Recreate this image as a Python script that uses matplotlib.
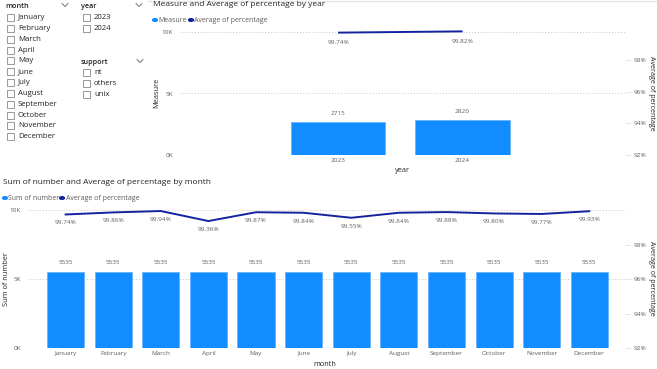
import numpy as np
import matplotlib.pyplot as plt
from matplotlib.lines import Line2D
from matplotlib.patches import Rectangle, Circle

# Data
months = ['January', 'February', 'March', 'April', 'May', 'June',
          'July', 'August', 'September', 'October', 'November', 'December']
years = ['2023', '2024']
supports = ['nt', 'others', 'unix']

year_measure = [2715, 2820]
year_pct = [99.74, 99.82]

month_number = [5535, 5535, 5535, 5535, 5535, 5535,
                5535, 5535, 5535, 5535, 5535, 5535]
month_pct = [99.74, 99.86, 99.94, 99.36, 99.87, 99.84,
             99.55, 99.84, 99.88, 99.80, 99.77, 99.93]

# Style
W, H = 657, 369
BAR = '#118DFF'
LINE = '#12239E'
GREY = '#605E5C'
DARK = '#252423'
GRID = '#C8C6C4'
plt.rcParams['font.family'] = ['Open Sans', 'DejaVu Sans']

fig = plt.figure(figsize=(W / 100, H / 100), dpi=100)


def fx(x):
    return x / W


def fy(y):
    return 1 - y / H


def pbox(x0, y0, x1, y1):
    return [x0 / W, 1 - y1 / H, (x1 - x0) / W, (y1 - y0) / H]


def chevron(x, y):
    fig.add_artist(Line2D([fx(x - 3), fx(x), fx(x + 3)], [fy(y - 1.5), fy(y + 1.5), fy(y - 1.5)],
                          transform=fig.transFigure, color=GREY, lw=0.6))


def slicer(x, y, title, items, step=10.9):
    fig.text(fx(x), fy(y), title, fontsize=5.2, color=DARK, va='center', fontweight='semibold')
    for i, it in enumerate(items):
        yc = y + 10.7 + i * step
        fig.add_artist(Rectangle((fx(x + 1.5), fy(yc + 3.5)), 7 / W, 7 / H, transform=fig.transFigure,
                                 fill=False, ec='#8A8886', lw=0.6))
        fig.text(fx(x + 13), fy(yc), it, fontsize=5.6, color=DARK, va='center')


# Slicers
slicer(5, 7, 'month', months, step=10.82)
chevron(65, 5)
slicer(81, 7, 'year', years)
chevron(139, 5)
slicer(81, 62, 'support', supports)
chevron(140, 61)

# light top border
fig.add_artist(Line2D([fx(148), 1], [fy(0.8), fy(0.8)], transform=fig.transFigure, color='#E6E6E6', lw=1))


def legend(y, entries):
    for xx, name, col in entries:
        fig.add_artist(Circle((fx(xx), fy(y)), 2.4 / W, transform=fig.transFigure, color=col))
        fig.text(fx(xx + 3.5), fy(y), name, fontsize=5, color=GREY, va='center')


def style_axes(ax, ax2, yticks, ylim, pticks, plim):
    ax.set_ylim(*ylim)
    ax.set_yticks(yticks)
    ax.set_yticklabels([f'{int(v / 1000)}K' for v in yticks])
    ax.grid(axis='y', color=GRID, linestyle=(0, (1, 2)), lw=0.7)
    ax.set_axisbelow(True)
    for s in ax.spines.values():
        s.set_visible(False)
    for s in ax2.spines.values():
        s.set_visible(False)
    ax.tick_params(axis='both', length=0, labelsize=4.6, labelcolor=GREY, pad=5)
    ax2.set_ylim(*plim)
    ax2.set_yticks(pticks)
    ax2.set_yticklabels([f'{int(v)}%' for v in pticks])
    ax2.tick_params(axis='y', length=4, color='#E1DFDD', width=0.6, labelsize=4.6, labelcolor=GREY, pad=2)


# Top chart
fig.text(fx(153), fy(5), 'Measure and Average of percentage by year', fontsize=6.0, color=DARK, va='center')
legend(20, [(155, 'Measure', BAR), (191, 'Average of percentage', LINE)])

ax = fig.add_axes(pbox(180, 32, 625, 155))
ax2 = ax.twinx()
x = np.arange(len(years))
ax.bar(x, year_measure, width=0.76, color=BAR, edgecolor='#5FB0FF', lw=0.5)
ax.set_xlim(-1.27, 2.305)
ax.set_xticks(x)
ax.set_xticklabels(years)
style_axes(ax, ax2, [0, 5000, 10000], (0, 10000), [92, 94, 96, 98], (92, 99.78))
ax.tick_params(axis='x', pad=2)
for xi, v in zip(x, year_measure):
    ax.annotate(str(v), (xi, v), xytext=(0, 6), textcoords='offset points',
                ha='center', va='center', fontsize=4.6, color=GREY)
ax2.plot(x, year_pct, color=LINE, lw=1.4, clip_on=False, solid_capstyle='butt')
for xi, v in zip(x, year_pct):
    ax2.annotate(f'{v:.2f}%', (xi, v), xytext=(0, -7), textcoords='offset points',
                 ha='center', va='center', fontsize=4.6, color=GREY, annotation_clip=False)
fig.text(fx(157), fy(93), 'Measure', rotation=90, fontsize=5.3, color=DARK, ha='center', va='center')
fig.text(fx(402), fy(171), 'year', fontsize=5.3, color=DARK, ha='center', va='center')
fig.text(fx(652), fy(93), 'Average of percentage', rotation=270, fontsize=5.1, color=DARK, ha='center', va='center')

# Bottom chart
fig.text(fx(3), fy(183), 'Sum of number and Average of percentage by month', fontsize=6.0, color=DARK, va='center')
legend(198, [(5, 'Sum of number', BAR), (62, 'Average of percentage', LINE)])

bx = fig.add_axes(pbox(28, 210, 625, 348))
bx2 = bx.twinx()
m = np.arange(len(months))
bx.bar(m, month_number, width=0.78, color=BAR, edgecolor='#5FB0FF', lw=0.5)
bx.set_xlim(-0.79, 11.75)
bx.set_xticks(m)
bx.set_xticklabels(months)
style_axes(bx, bx2, [0, 5000, 10000], (0, 10000), [92, 94, 96, 98], (92, 100))
bx.tick_params(axis='x', pad=2)
for xi, v in zip(m, month_number):
    bx.annotate(str(v), (xi, v), xytext=(0, 6.5), textcoords='offset points',
                ha='center', va='center', fontsize=4.6, color=GREY)
bx2.plot(m, month_pct, color=LINE, lw=1.4, clip_on=False)
for xi, v in zip(m, month_pct):
    bx2.annotate(f'{v:.2f}%', (xi, v), xytext=(0, -6), textcoords='offset points',
                 ha='center', va='center', fontsize=4.6, color=GREY, annotation_clip=False)
fig.text(fx(7), fy(279), 'Sum of number', rotation=90, fontsize=5.3, color=DARK, ha='center', va='center')
fig.text(fx(325), fy(364), 'month', fontsize=5.3, color=DARK, ha='center', va='center')
fig.text(fx(652), fy(278), 'Average of percentage', rotation=270, fontsize=5.1, color=DARK, ha='center', va='center')

fig.savefig('out.png', dpi=100)
